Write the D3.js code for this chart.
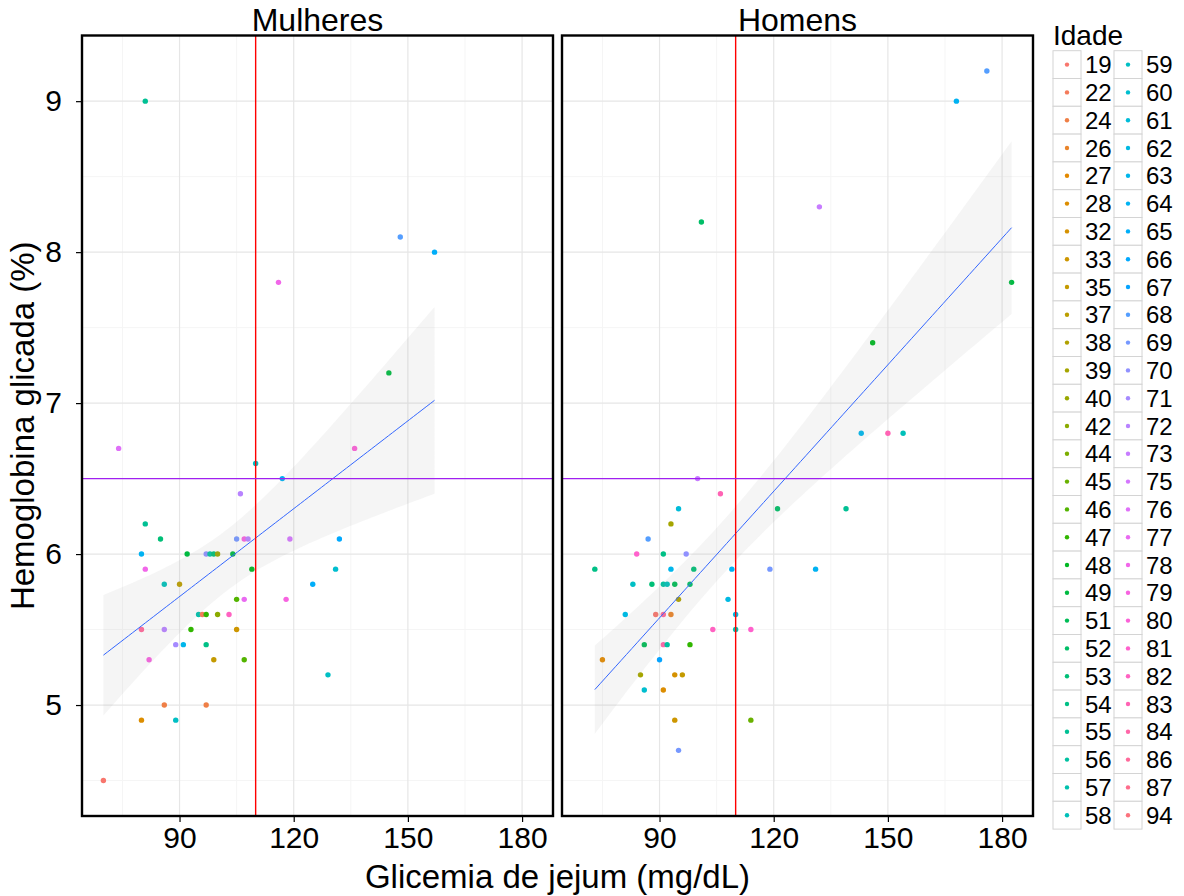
<!DOCTYPE html>
<html>
<head>
<meta charset="utf-8">
<script src="https://cdn.jsdelivr.net/npm/d3@7"></script>
<style>
  body { margin: 0; background: #fff; }
  text { font-family: "Liberation Sans", Arial, sans-serif; fill: #000; }
</style>
</head>
<body>
<div id="chart"></div>
<script>
// Idade levels (legend order)
var idadeLevels = [19, 22, 24, 26, 27, 28, 32, 33, 35, 37, 38, 39, 40, 42, 44, 45, 46, 47, 48, 49, 51, 52, 53, 54, 55, 56, 57, 58,
                   59, 60, 61, 62, 63, 64, 65, 66, 67, 68, 69, 70, 71, 72, 73, 75, 76, 77, 78, 79, 80, 81, 82, 83, 84, 86, 87, 94];

var panelNames = ["Mulheres", "Homens"];

// Mulheres
var mulheresGlicemia = [106, 81, 85, 80, 92, 97, 98, 99, 100, 104, 105, 107, 108, 119, 81, 109, 86, 90, 125, 105, 107, 118,
                        95, 96, 97, 100, 103, 80, 86, 93, 105, 89, 91, 97, 82, 99, 107, 86, 97, 80, 89, 70,
                        136, 132, 131, 129, 81, 148, 157, 116, 145, 74, 110, 117];
var mulheresHba1c    = [6.4, 6.2, 6.1, 6.0, 6.0, 6.0, 6.0, 6.0, 6.0, 6.0, 6.1, 6.1, 6.1, 6.1, 5.9, 5.9, 5.8, 5.8, 5.8, 5.7, 5.7, 5.7,
                        5.6, 5.6, 5.6, 5.6, 5.6, 5.5, 5.5, 5.5, 5.5, 5.4, 5.4, 5.4, 5.3, 5.3, 5.3, 5.0, 5.0, 4.9, 4.9, 4.5,
                        6.7, 6.1, 5.9, 5.2, 9.0, 8.1, 8.0, 7.8, 7.2, 6.7, 6.6, 6.5];
var mulheresIdade    = [72, 55, 53, 64, 49, 70, 56, 53, 40, 49, 69, 79, 72, 75, 78, 48, 58, 37, 65, 46, 77, 79,
                        57, 22, 47, 42, 82, 86, 72, 47, 33, 71, 63, 54, 79, 35, 46, 24, 24, 28, 59, 19,
                        80, 66, 60, 59, 55, 68, 65, 78, 49, 76, 59, 64];

// Homens
var homensGlicemia = [106, 95, 93, 87, 84, 91, 97, 73, 93, 99, 109, 119, 131, 83, 88, 91, 92, 94, 98, 95, 108,
                      81, 89, 91, 93, 110, 104, 110, 114, 86, 91, 92, 98, 75, 90, 85, 94, 96, 86, 91, 94, 114, 95,
                      176, 168, 132, 101, 182.5, 146, 143, 150, 154, 121, 139, 100];
var homensHba1c    = [6.4, 6.3, 6.2, 6.1, 6.0, 6.0, 6.0, 5.9, 5.9, 5.9, 5.9, 5.9, 5.9, 5.8, 5.8, 5.8, 5.8, 5.8, 5.8, 5.7, 5.7,
                      5.6, 5.6, 5.6, 5.6, 5.6, 5.5, 5.5, 5.5, 5.4, 5.4, 5.4, 5.4, 5.3, 5.3, 5.2, 5.2, 5.2, 5.1, 5.1, 4.9, 4.9, 4.7,
                      9.2, 9.0, 8.3, 8.2, 7.8, 7.4, 6.8, 6.8, 6.8, 6.3, 6.3, 6.5];
var homensIdade    = [83, 61, 39, 68, 81, 54, 70, 54, 63, 53, 64, 69, 64, 59, 53, 56, 58, 51, 52, 38, 62,
                      62, 50, 86, 26, 62, 82, 57, 81, 51, 84, 56, 47, 27, 67, 39, 32, 35, 60, 28, 33, 45, 69,
                      68, 64, 73, 52, 49, 48, 63, 83, 58, 52, 55, 73];

var xMajor = [90, 120, 150, 180];
var yMajor = [5, 6, 7, 8, 9];
var refGlicemia = 110;
var refHba1c = 6.5;

var W = 1184, H = 896;
var panelW = 471, panelTop = 35.5, panelBottom = 816;
var panelLeft = [82, 562];

// ggplot-like hue palette (polar LUV, c=100, l=65)
function hclLuv(h, c, l) {
  var hr = h * Math.PI / 180, U = c * Math.cos(hr), V = c * Math.sin(hr);
  var Xn = 95.047, Yn = 100, Zn = 108.883;
  var den = Xn + 15 * Yn + 3 * Zn, un = 4 * Xn / den, vn = 9 * Yn / den;
  var Y = l > 8 ? Yn * Math.pow((l + 16) / 116, 3) : Yn * l / 903.3;
  var u = U / (13 * l) + un, v = V / (13 * l) + vn;
  var X = 9 * Y * u / (4 * v), Z = -X / 3 - 5 * Y + 3 * Y / v;
  X /= 100; Y /= 100; Z /= 100;
  var rgb = [3.240479 * X - 1.537150 * Y - 0.498535 * Z,
             -0.969256 * X + 1.875992 * Y + 0.041556 * Z,
             0.055648 * X - 0.204043 * Y + 1.057311 * Z].map(function(c) {
    c = c <= 0.0031308 ? 12.92 * c : 1.055 * Math.pow(c, 1 / 2.4) - 0.055;
    return Math.round(255 * Math.max(0, Math.min(1, c)));
  });
  return d3.rgb(rgb[0], rgb[1], rgb[2]).formatHex();
}
var nLev = idadeLevels.length;
var color = d3.scaleOrdinal()
  .domain(idadeLevels)
  .range(idadeLevels.map(function(d, i) { return hclLuv(15 + 360 * i / nLev, 100, 65); }));

function makeRows(gx, gy, ga) {
  return gx.map(function(d, i) { return { x: d, y: gy[i], idade: ga[i] }; });
}
var panels = [makeRows(mulheresGlicemia, mulheresHba1c, mulheresIdade),
              makeRows(homensGlicemia, homensHba1c, homensIdade)];

// scales shared by both facets (5% expansion like ggplot)
var allX = mulheresGlicemia.concat(homensGlicemia), allY = mulheresHba1c.concat(homensHba1c);
var xe = d3.extent(allX), ye = d3.extent(allY);
var xPad = (xe[1] - xe[0]) * 0.05, yPad = (ye[1] - ye[0]) * 0.05;
var x = d3.scaleLinear().domain([xe[0] - xPad, xe[1] + xPad]).range([0, panelW]);
var y = d3.scaleLinear().domain([ye[0] - yPad, ye[1] + yPad]).range([panelBottom, panelTop]);

function between(v, dom) { return v >= dom[0] && v <= dom[1]; }
var xMinor = xMajor.map(function(d) { return d - 15; }).concat([xMajor[xMajor.length - 1] + 15]).filter(function(d) { return between(d, x.domain()); });
var yMinor = yMajor.map(function(d) { return d - 0.5; }).concat([yMajor[yMajor.length - 1] + 0.5]).filter(function(d) { return between(d, y.domain()); });

// t quantile (Cornish-Fisher) for the 95% band
function tQuant(df) {
  var z = 1.959964;
  var g1 = (Math.pow(z, 3) + z) / 4;
  var g2 = (5 * Math.pow(z, 5) + 16 * Math.pow(z, 3) + 3 * z) / 96;
  var g3 = (3 * Math.pow(z, 7) + 19 * Math.pow(z, 5) + 17 * Math.pow(z, 3) - 15 * z) / 384;
  return z + g1 / df + g2 / (df * df) + g3 / (df * df * df);
}

// linear model fit, evaluated at 80 points like geom_smooth(method = "lm")
function lmFit(rows) {
  var n = rows.length;
  var mx = d3.mean(rows, function(d) { return d.x; }), my = d3.mean(rows, function(d) { return d.y; });
  var sxx = d3.sum(rows, function(d) { return (d.x - mx) * (d.x - mx); });
  var sxy = d3.sum(rows, function(d) { return (d.x - mx) * (d.y - my); });
  var b = sxy / sxx, a = my - b * mx;
  var sse = d3.sum(rows, function(d) { var r = d.y - (a + b * d.x); return r * r; });
  var s = Math.sqrt(sse / (n - 2)), t = tQuant(n - 2);
  var ext = d3.extent(rows, function(d) { return d.x; });
  return d3.range(80).map(function(i) {
    var xv = ext[0] + (ext[1] - ext[0]) * i / 79;
    var fit = a + b * xv;
    var se = s * Math.sqrt(1 / n + (xv - mx) * (xv - mx) / sxx);
    return { x: xv, y: fit, lo: fit - t * se, hi: fit + t * se };
  });
}

var svg = d3.select("#chart").append("svg")
  .attr("width", W).attr("height", H)
  .style("background", "#fff");

panels.forEach(function(rows, p) {
  var g = svg.append("g").attr("transform", "translate(" + panelLeft[p] + ",0)");

  g.append("rect").attr("x", 0).attr("y", panelTop).attr("width", panelW).attr("height", panelBottom - panelTop)
    .attr("fill", "#fff");

  // grid
  g.selectAll(".minx").data(xMinor).enter().append("line")
    .attr("x1", x).attr("x2", x).attr("y1", panelTop).attr("y2", panelBottom)
    .attr("stroke", "#f5f5f5").attr("stroke-width", 1);
  g.selectAll(".miny").data(yMinor).enter().append("line")
    .attr("x1", 0).attr("x2", panelW).attr("y1", y).attr("y2", y)
    .attr("stroke", "#f5f5f5").attr("stroke-width", 1);
  g.selectAll(".majx").data(xMajor).enter().append("line")
    .attr("x1", x).attr("x2", x).attr("y1", panelTop).attr("y2", panelBottom)
    .attr("stroke", "#e6e6e6").attr("stroke-width", 1.2);
  g.selectAll(".majy").data(yMajor).enter().append("line")
    .attr("x1", 0).attr("x2", panelW).attr("y1", y).attr("y2", y)
    .attr("stroke", "#e6e6e6").attr("stroke-width", 1.2);

  // points
  g.selectAll(".pt").data(rows).enter().append("circle")
    .attr("cx", function(d) { return x(d.x); })
    .attr("cy", function(d) { return y(d.y); })
    .attr("r", 2.7)
    .attr("fill", function(d) { return color(d.idade); });

  // lm smooth
  var fit = lmFit(rows);
  g.append("path").datum(fit)
    .attr("d", d3.area().x(function(d) { return x(d.x); }).y0(function(d) { return y(d.lo); }).y1(function(d) { return y(d.hi); }))
    .attr("fill", "#999").attr("fill-opacity", 0.1);
  g.append("path").datum(fit)
    .attr("d", d3.line().x(function(d) { return x(d.x); }).y(function(d) { return y(d.y); }))
    .attr("fill", "none").attr("stroke", "#3366FF").attr("stroke-width", 1);

  // reference lines
  g.append("line").attr("x1", x(refGlicemia)).attr("x2", x(refGlicemia)).attr("y1", panelTop).attr("y2", panelBottom)
    .attr("stroke", "#FF0000").attr("stroke-width", 1.4);
  g.append("line").attr("x1", 0).attr("x2", panelW).attr("y1", y(refHba1c)).attr("y2", y(refHba1c))
    .attr("stroke", "#A020F0").attr("stroke-width", 1.4);

  // border
  g.append("rect").attr("x", 0).attr("y", panelTop).attr("width", panelW).attr("height", panelBottom - panelTop)
    .attr("fill", "none").attr("stroke", "#000").attr("stroke-width", 2.4);

  // strip title
  g.append("text").attr("x", panelW / 2).attr("y", 31)
    .attr("text-anchor", "middle").style("font-size", "32px").text(panelNames[p]);

  // x axis
  var xAxis = g.append("g").attr("transform", "translate(0," + (panelBottom + 1) + ")")
    .call(d3.axisBottom(x).tickValues(xMajor).tickSize(5).tickPadding(5));
  xAxis.select(".domain").remove();
  xAxis.selectAll(".tick line").attr("stroke", "#000").attr("stroke-width", 1.2);
  xAxis.selectAll(".tick text").style("font-size", "30px").style("font-family", "Liberation Sans, Arial, sans-serif").attr("fill", "#000");

  if (p === 0) {
    var yAxis = g.append("g").attr("transform", "translate(-1,0)")
      .call(d3.axisLeft(y).tickValues(yMajor).tickFormat(d3.format("d")).tickSize(5).tickPadding(14));
    yAxis.select(".domain").remove();
    yAxis.selectAll(".tick line").attr("stroke", "#000").attr("stroke-width", 1.2);
    yAxis.selectAll(".tick text").style("font-size", "30px").style("font-family", "Liberation Sans, Arial, sans-serif").attr("fill", "#000");
  }
});

// axis titles
svg.append("text")
  .attr("x", (panelLeft[0] + panelLeft[1] + panelW) / 2).attr("y", 888)
  .attr("text-anchor", "middle").style("font-size", "33px")
  .text("Glicemia de jejum (mg/dL)");
svg.append("text")
  .attr("transform", "translate(34," + ((panelTop + panelBottom) / 2) + ") rotate(-90)")
  .attr("text-anchor", "middle").style("font-size", "33px")
  .text("Hemoglobina glicada (%)");

// legend
var legend = svg.append("g").attr("transform", "translate(1053,0)");
legend.append("text").attr("x", 0).attr("y", 45).style("font-size", "28px").text("Idade");
var perCol = Math.ceil(nLev / 2), keyW = 28, keyH = 27.8, colW = 61, keyTop = 50.7;
var item = legend.selectAll(".key").data(idadeLevels).enter().append("g")
  .attr("transform", function(d, i) {
    return "translate(" + (Math.floor(i / perCol) * colW) + "," + (keyTop + (i % perCol) * keyH) + ")";
  });
item.append("rect").attr("width", keyW).attr("height", keyH)
  .attr("fill", "#fff").attr("stroke", "#d4d4d4").attr("stroke-width", 1);
item.append("circle").attr("cx", keyW / 2).attr("cy", keyH / 2).attr("r", 2.2)
  .attr("fill", function(d) { return color(d); });
item.append("text").attr("x", keyW + 4).attr("y", keyH / 2).attr("dy", "0.36em")
  .style("font-size", "24px").text(function(d) { return d; });
</script>
</body>
</html>
